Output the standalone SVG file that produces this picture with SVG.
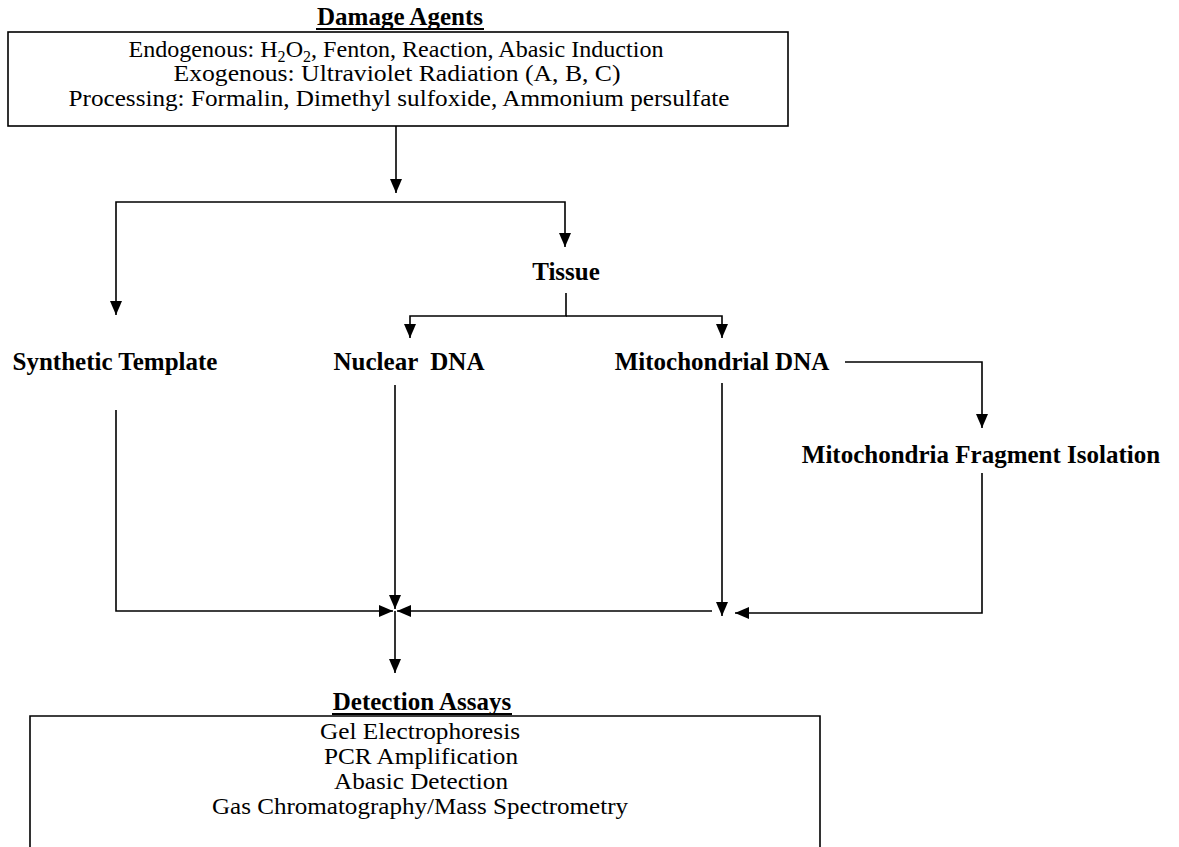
<svg xmlns="http://www.w3.org/2000/svg" width="1179" height="847" viewBox="0 0 1179 847">
<defs>
<style>
.body{font-family:"Liberation Serif","Times New Roman",serif;font-size:24px;fill:#000;text-anchor:middle}
.lbl{font-family:"Liberation Serif","Times New Roman",serif;font-size:25px;font-weight:bold;fill:#000;text-anchor:middle}
.box{fill:none;stroke:#000;stroke-width:1.6}
.ul{stroke:#000;stroke-width:2}
.c{fill:none;stroke:#000;stroke-width:1.6}
</style>
<marker id="ah" markerUnits="userSpaceOnUse" markerWidth="14" markerHeight="12" refX="14" refY="6" orient="auto">
<path d="M0,0 L14,6 L0,12 z" fill="#000"/>
</marker>
</defs>
<rect width="1179" height="847" fill="#fff"/>

<g id="damage-agents">
<text class="lbl" x="400" y="25">Damage Agents</text>
<line class="ul" x1="316" y1="29" x2="484" y2="29"/>
<rect class="box" x="8" y="32" width="780" height="94"/>
<text class="body" x="396" y="57" textLength="535" lengthAdjust="spacingAndGlyphs">Endogenous: H<tspan font-size="16" baseline-shift="-5">2</tspan>O<tspan font-size="16" baseline-shift="-5">2</tspan>, Fenton, Reaction, Abasic Induction</text>
<text class="body" x="397" y="81" textLength="447" lengthAdjust="spacingAndGlyphs">Exogenous: Ultraviolet Radiation (A, B, C)</text>
<text class="body" x="399" y="106" textLength="661" lengthAdjust="spacingAndGlyphs">Processing: Formalin, Dimethyl sulfoxide, Ammonium persulfate</text>
</g>

<g id="tissue"><text class="lbl" x="566" y="280">Tissue</text></g>
<g id="synthetic-template"><text class="lbl" x="115" y="370">Synthetic Template</text></g>
<g id="nuclear-dna"><text class="lbl" x="409" y="370" xml:space="preserve">Nuclear  DNA</text></g>
<g id="mitochondrial-dna"><text class="lbl" x="722" y="370">Mitochondrial DNA</text></g>
<g id="mito-fragment"><text class="lbl" x="981" y="463">Mitochondria Fragment Isolation</text></g>

<g id="detection-assays">
<text class="lbl" x="422" y="710">Detection Assays</text>
<line class="ul" x1="332" y1="714" x2="512" y2="714"/>
<path class="box" d="M30,860 V716 H820 V860"/>
<text class="body" x="420" y="739" textLength="200" lengthAdjust="spacingAndGlyphs">Gel Electrophoresis</text>
<text class="body" x="421" y="764" textLength="194" lengthAdjust="spacingAndGlyphs">PCR Amplification</text>
<text class="body" x="421" y="789" textLength="174" lengthAdjust="spacingAndGlyphs">Abasic Detection</text>
<text class="body" x="420" y="814" textLength="416" lengthAdjust="spacingAndGlyphs">Gas Chromatography/Mass Spectrometry</text>
</g>

<g id="connectors">
<path class="c" d="M396,126 V193" marker-end="url(#ah)"/>
<path class="c" d="M396,202 H116 V315" marker-end="url(#ah)"/>
<path class="c" d="M396,202 H565 V247" marker-end="url(#ah)"/>
<path class="c" d="M566,293 V316 H410 V338" marker-end="url(#ah)"/>
<path class="c" d="M566,316 H722 V338" marker-end="url(#ah)"/>
<path class="c" d="M845,362 H982 V428" marker-end="url(#ah)"/>
<path class="c" d="M116,410 V611 H393" marker-end="url(#ah)"/>
<path class="c" d="M395,385 V609" marker-end="url(#ah)"/>
<path class="c" d="M722,383 V616" marker-end="url(#ah)"/>
<path class="c" d="M712,611 H397" marker-end="url(#ah)"/>
<path class="c" d="M982,473 V613 H735" marker-end="url(#ah)"/>
<path class="c" d="M395,611 V673" marker-end="url(#ah)"/>
</g>
</svg>
